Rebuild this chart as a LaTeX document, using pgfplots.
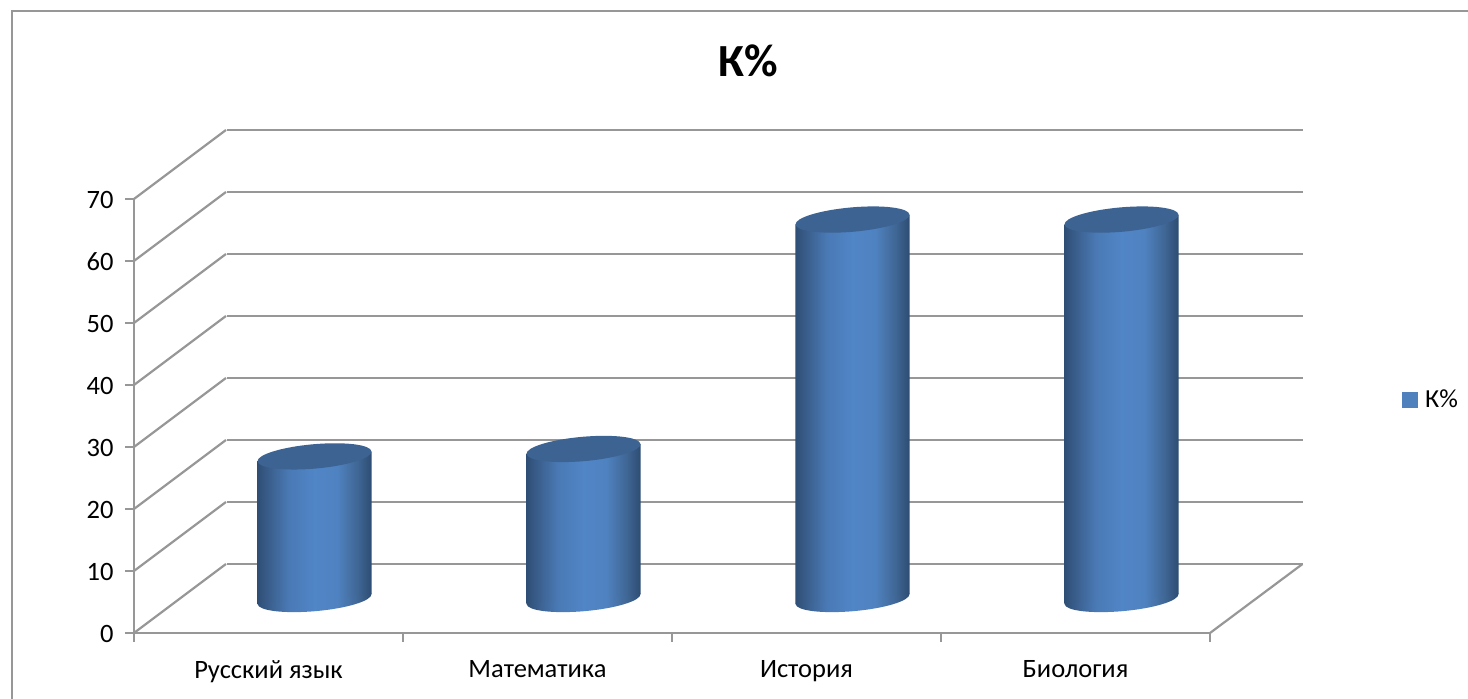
\documentclass[border=0pt]{standalone}
\usepackage{fontspec}
\usepackage{pgfplots}
\pgfplotsset{compat=1.18}
\setmainfont{Carlito}

\definecolor{gridgray}{HTML}{979797}
\definecolor{captop}{HTML}{3D6392}
\definecolor{legblue}{HTML}{4F81BD}
\definecolor{cyl0}{HTML}{2E4E75}
\definecolor{cyl1}{HTML}{3E6596}
\definecolor{cyl2}{HTML}{4A7AB6}
\definecolor{cyl3}{HTML}{5085C6}
\definecolor{cyl4}{HTML}{4F82C0}
\definecolor{cyl5}{HTML}{3F6694}
\definecolor{cyl6}{HTML}{2D4C72}

% left to right shading of the cylinder body (path spans 25bp..75bp)
\pgfdeclarehorizontalshading{cyl}{100bp}{
  color(0bp)=(cyl0);
  color(25bp)=(cyl0);
  color(32bp)=(cyl1);
  color(39bp)=(cyl2);
  color(50bp)=(cyl3);
  color(60bp)=(cyl4);
  color(69bp)=(cyl5);
  color(75bp)=(cyl6);
  color(100bp)=(cyl6)}

% tilted ellipse, half axes 57.2 and 12.2 at 5 degrees
\pgfdeclareplotmark{captop}{%
  \pgfsetfillcolor{captop}%
  \pgfpathellipse{\pgfpointorigin}{\pgfqpoint{56.98pt}{4.99pt}}{\pgfqpoint{-1.06pt}{12.15pt}}%
  \pgfusepath{fill}}
\pgfdeclareplotmark{capbot}{%
  \pgfpathellipse{\pgfpointorigin}{\pgfqpoint{56.98pt}{4.99pt}}{\pgfqpoint{-1.06pt}{12.15pt}}%
  \pgfshadepath{cyl}{0}%
  \pgfusepath{discard}}

\pgfplotsset{
  base/.style={
    scale only axis,
    width=1076pt, height=434pt,
    xmin=0, xmax=4, ymin=0, ymax=70,
    anchor=south west,
    clip=false,
  },
  hiddenaxis/.style={
    base,
    axis line style={draw=none},
    xtick=\empty, ytick=\empty,
  },
}

\begin{document}
\begin{tikzpicture}
\path[use as bounding box] (0,0) rectangle (1468pt,699pt);
\draw[gridgray,line width=2pt] (11.5pt,0pt) -- (11.5pt,688pt) -- (1468pt,688pt);

% back wall
\begin{axis}[
    base,
    at={(226.5pt,135pt)},
    axis line style={draw=none},
    xtick=\empty,
    ytick={0,10,...,70},
    yticklabels={},
    major tick length=0pt,
    ymajorgrids,
    grid style={gridgray,line width=2.2pt},
]
\addplot[draw=none,forget plot] coordinates {(0,0) (4,70)};
\end{axis}

% front axes
\begin{axis}[
    base,
    at={(134pt,66pt)},
    axis lines=left,
    axis line style={gridgray,line width=2.2pt,-},
    tick style={gridgray,line width=2pt},
    tick align=outside,
    major tick length=9pt,
    xtick={0,1,2,3,4},
    xticklabels={Русский язык,Математика,История,Биология,},
    ytick={0,10,...,70},
    /pgf/number format/assume math mode=true,
    tick label style={font=\fontsize{26.5}{30}\selectfont,text=black},
    xticklabel style={xshift=134.5pt,yshift=-15pt},
    yticklabel style={xshift=-8pt,yshift=-1pt},
    title={К\%},
    title style={at={(0.5706,1.304)},anchor=center,font=\fontsize{46}{50}\selectfont\bfseries},
    unbounded coords=jump,
]
% floor and side wall edges
\addplot[gridgray,line width=2.2pt,forget plot] coordinates {
  (0,0) (0.342,11.13) (0,nan)
  (0,10) (0.342,21.13) (0,nan)
  (0,20) (0.342,31.13) (0,nan)
  (0,30) (0.342,41.13) (0,nan)
  (0,40) (0.342,51.13) (0,nan)
  (0,50) (0.342,61.13) (0,nan)
  (0,60) (0.342,71.13) (0,nan)
  (0,70) (0.342,81.13) (0,nan)
  (4,0) (4.344,11.13)
};
\end{axis}

% cylinders stand half way into the depth: lower ends first, marks go on top within one axis
\begin{axis}[hiddenaxis,at={(180pt,100pt)}]
\addplot[only marks,mark=capbot,forget plot] coordinates {(0.5,0) (1.5,0) (2.5,0) (3.5,0)};
\end{axis}

\begin{axis}[
    hiddenaxis,
    at={(180pt,100pt)},
    legend style={at={(1.1625,0.4597)},anchor=center,draw=none,fill=none,
      font=\fontsize{26}{29}\selectfont,inner sep=0pt},
    legend image code/.code={\fill[legblue] (0pt,-7.5pt) rectangle (15pt,7.5pt);\path (21pt,0pt);},
]
\addplot[draw=none,shade,shading=cyl,forget plot] coordinates {(0.288,-0.77) (0.288,22.23) (0.712,23.77) (0.712,0.77)} --cycle;
\addplot[draw=none,shade,shading=cyl,forget plot] coordinates {(1.288,-0.77) (1.288,23.43) (1.712,24.97) (1.712,0.77)} --cycle;
\addplot[draw=none,shade,shading=cyl,forget plot] coordinates {(2.288,-0.77) (2.288,60.43) (2.712,61.97) (2.712,0.77)} --cycle;
\addplot[draw=none,shade,shading=cyl,forget plot] coordinates {(3.288,-0.77) (3.288,60.43) (3.712,61.97) (3.712,0.77)} --cycle;

\addplot[only marks,mark=captop,forget plot] coordinates {(0.5,23) (1.5,24.2) (2.5,61.2) (3.5,61.2)};

\addlegendimage{}
\addlegendentry{К\%}
\end{axis}
\end{tikzpicture}
\end{document}
